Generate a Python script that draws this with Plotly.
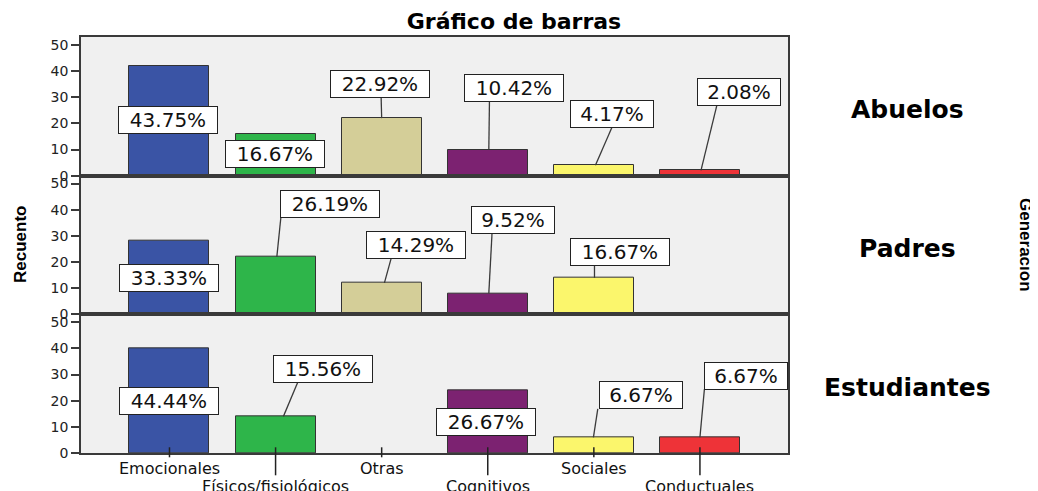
import plotly.graph_objects as go
from plotly.subplots import make_subplots

# ---------------- data ----------------
categories = ["Emocionales", "Físicos/fisiológicos", "Otras", "Cognitivos", "Sociales", "Conductuales"]
generations = ["Abuelos", "Padres", "Estudiantes"]
abuelos = [42, 16, 22, 10, 4, 2]
padres = [28, 22, 12, 8, 14, 0]
estudiantes = [40, 14, 0, 24, 6, 6]
pct_abuelos = ["43.75%", "16.67%", "22.92%", "10.42%", "4.17%", "2.08%"]
pct_padres = ["33.33%", "26.19%", "14.29%", "9.52%", "16.67%", None]
pct_estudiantes = ["44.44%", "15.56%", None, "26.67%", "6.67%", "6.67%"]
y_ticks = [0, 10, 20, 30, 40, 50]

# ---------------- style / layout ----------------
colors = ["#3a54a5", "#2eb54a", "#d4ce98", "#7c2271", "#fbf66c", "#ee3338"]
frame = "#3a3a3a"

# label box placement (x in category units, y in counts), line attach x, line tip x
lab_abuelos = [(-0.01, 21.3, None, None), (0.994, 8.2, None, None), (1.986, 35.0, 1.995, 2.0),
               (3.252, 33.7, 3.016, 3.01), (4.169, 23.7, 4.172, 4.015), (5.372, 31.8, 5.158, 5.01)]
lab_padres = [(0.0, 13.8, None, None), (1.516, 42.2, 1.05, 1.012), (2.32, 26.6, 2.09, 2.026),
              (3.24, 35.9, 3.04, 3.01), (4.244, 23.7, 4.006, 4.006), None]
lab_estudiantes = [(0.0, 20.0, None, None), (1.449, 32.1, 1.209, 1.074), None,
                   (2.988, 12.0, None, None), (4.442, 22.0, 4.037, 3.996), (5.438, 29.5, 5.042, 5.0)]
box_half = 5.1

values = [abuelos, padres, estudiantes]
pcts = [pct_abuelos, pct_padres, pct_estudiantes]
labs = [lab_abuelos, lab_padres, lab_estudiantes]

OFF = 8  # page body margin
W, H = 1038 - OFF, 491 - OFF
ML, MR, MT, MB = 73, 250, 29, 38
PW = W - ML - MR
PH = H - MT - MB
PLOT_BOTTOM = H - MB  # figure px


def px_x(page_x):
    return (page_x - OFF - ML) / PW


def px_y(page_y):
    return (PLOT_BOTTOM - (page_y - OFF)) / PH


fig = make_subplots(rows=3, cols=1, shared_xaxes=True, vertical_spacing=0)

idx = list(range(len(categories)))
annotations = []
for r in range(3):
    vals = values[r]
    fig.add_trace(go.Bar(
        x=idx, y=[v if v else None for v in vals], width=0.754,
        marker=dict(color=colors, line=dict(color="#333333", width=1)),
        showlegend=False, hoverinfo="skip"), row=r + 1, col=1)
    yref = "y" if r == 0 else "y%d" % (r + 1)
    xref = "x" if r == 0 else "x%d" % (r + 1)
    for i, txt in enumerate(pcts[r]):
        pos = labs[r][i]
        if txt is None or pos is None:
            continue
        lx, ly, ax_, tx = pos
        if ax_ is not None:
            fig.add_trace(go.Scatter(
                x=[tx, ax_], y=[vals[i], ly - box_half], mode="lines",
                line=dict(color="#3a3a3a", width=1.3), showlegend=False,
                hoverinfo="skip"), row=r + 1, col=1)
        annotations.append(dict(
            x=lx, y=ly, xref=xref, yref=yref, text=txt, showarrow=False,
            bgcolor="white", bordercolor="#222222", borderwidth=1, borderpad=1,
            width=16 * len(txt), align="center",
            font=dict(family="DejaVu Sans", size=20, color="#111111")))

for r in range(3):
    fig.update_yaxes(range=[0, 53], tickvals=y_ticks, ticks="outside", ticklen=8,
                     tickcolor=frame, tickwidth=1.5, showline=True, linecolor=frame,
                     linewidth=1.5, mirror=True, showgrid=False, zeroline=False,
                     automargin=False,
                     tickfont=dict(family="DejaVu Sans", size=14, color="#222222"),
                     row=r + 1, col=1)
    fig.update_xaxes(range=[-0.834, 5.83], showline=True, linecolor=frame, linewidth=1.5,
                     mirror=True, showgrid=False, zeroline=False, ticks="",
                     showticklabels=False, automargin=False, row=r + 1, col=1)

# staggered category labels and tick marks on the bottom axis
shapes = []
for i, c in enumerate(categories):
    lower = i % 2 == 1
    down = 22.3 if lower else 4.3
    shapes.append(dict(type="line", xref="x3", yref="paper", x0=i, x1=i,
                       y0=5.7 / PH, y1=-down / PH, line=dict(color="#222222", width=1.5)))
    top_gap = 22 if lower else 4
    annotations.append(dict(x=i, y=-top_gap / PH, xref="x3", yref="paper", text=c,
                            showarrow=False, xanchor="center", yanchor="top",
                            font=dict(family="DejaVu Sans", size=16, color="#111111")))

panel_page_y = [109, 248, 387]
for g, py in zip(generations, panel_page_y):
    annotations.append(dict(x=px_x(907.5), y=px_y(py), xref="paper", yref="paper",
                            text="<b>%s</b>" % g, showarrow=False, xanchor="center",
                            yanchor="middle",
                            font=dict(family="DejaVu Sans", size=25, color="#000000")))

annotations.append(dict(x=px_x(20), y=px_y(245), xref="paper", yref="paper",
                        text="<b>Recuento</b>", textangle=-90, showarrow=False,
                        xanchor="center", yanchor="middle",
                        font=dict(family="Liberation Sans Narrow, Liberation Sans", size=17,
                                  color="#000000")))
annotations.append(dict(x=px_x(1026), y=px_y(245), xref="paper", yref="paper",
                        text="<b>Generación</b>", textangle=90, showarrow=False,
                        xanchor="center", yanchor="middle",
                        font=dict(family="Liberation Sans Narrow, Liberation Sans", size=17,
                                  color="#000000")))

fig.update_layout(
    width=W, height=H,
    margin=dict(l=ML, r=MR, t=MT, b=MB, autoexpand=False),
    paper_bgcolor="white", plot_bgcolor="#f0f0f0",
    title=dict(text="<b>Gráfico de barras</b>", x=(514 - OFF) / W, xanchor="center",
               y=1 - (21.7 - OFF) / H, yanchor="middle",
               font=dict(family="DejaVu Sans", size=22, color="#000000")),
    annotations=annotations, shapes=shapes, bargap=0,
)

fig.write_html("out.html")
